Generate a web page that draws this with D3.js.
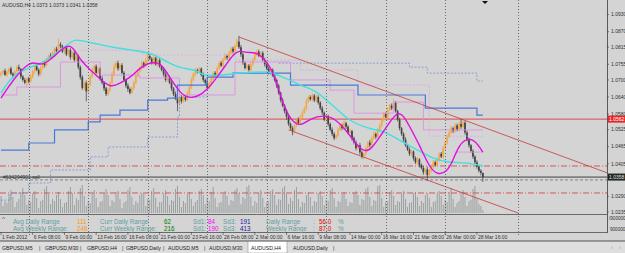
<!DOCTYPE html>
<html>
<head>
<meta charset="utf-8">
<script src="https://cdn.jsdelivr.net/npm/d3@7/dist/d3.min.js"></script>
<style>
  body { margin: 0; background: #d4d4d4; }
  svg { display: block; font-family: "Liberation Sans", Arial, sans-serif; }
</style>
</head>
<body>
<div id="chart"></div>
<script>
// AUDUSD H4, 1 Feb 16:00 .. 29 Mar 04:00 2012, prices in pips (x 1/10000)
var firstOpen = 10718;
var closePips = [
  10725,10732,10718,10728,10740,10722,10715,10730,
  10745,10738,10712,10700,10690,10705,10695,
  10712,10730,10748,10735,10720,10742,10760,10752,
  10770,10785,10778,10795,10810,10802,10825,10818,
  10800,10812,10790,10805,10780,10795,10770,10785,
  10745,10710,10672,10690,10660,
  10685,10712,10735,10748,10725,10740,
  10705,10690,10670,10650,10665,
  10690,10720,10745,10760,10740,10752,
  10725,10700,10680,10668,10655,
  10672,10690,10715,10730,10742,10760,10748,10770,10785,10775,
  10760,10778,10755,10770,10748,
  10735,10720,10700,10710,10690,
  10670,10650,10635,10618,10640,
  10625,10640,10630,10652,
  10675,10700,10720,10735,10728,10740,
  10718,10700,10690,10672,10688,
  10705,10725,10715,10740,10760,10750,10772,
  10785,10778,10795,10810,10800,10820,10835,
  10815,10790,10760,10742,10750,10735,
  10755,10772,10790,10800,10785,10795,
  10770,10755,10740,10725,10735,10715,10700,
  10680,10655,10630,10610,10590,
  10570,10545,10530,10520,10540,
  10560,10548,10570,10585,10600,
  10625,10640,10632,10645,10628,10640,10620,
  10600,10585,10560,10572,10545,10525,10510,10495,
  10505,10525,10540,10530,10548,10535,10515,10520,
  10495,10480,10460,10470,10445,10430,10440,
  10460,10480,10470,10495,10510,10500,10525,10540,
  10560,10580,10570,10595,10610,10600,10620,
  10590,10560,10530,10510,10490,
  10470,10455,10440,10448,10425,10410,10420,10400,
  10390,10375,10385,10365,10380,
  10395,10410,10400,10420,10440,10430,
  10460,10480,10500,10515,10530,10520,10540,
  10525,10545,10535,10550,
  10515,10490,10470,10450,10430,10410,
  10395,10380,10373,10358
];
var hiWick = [
  5,4,8,6,3,7,5,4,6,9, 4,5,7,3,6,8,5,4,9,6, 7,5,6,8,4,10,6,5,7,20,
  8,6,5,9,4,7,6,8,5,4, 6,7,5,8,6,4,9,5,7,6, 5,8,4,6,7,5,9,12,6,8,
  5,7,6,4,8,6,5,7,9,4, 6,8,5,7,10,6,5,8,4,6, 7,5,6,8,4,6,7,5,9,6,
  5,7,4,6,8,5,9,6,7,5, 6,4,8,5,7,6,9,5,6,8, 5,7,6,9,4,8,6,7,5,10,
  20,8,6,5,7,6,9,5,8,6, 7,5,6,8,4,7,5,6,8,5, 6,4,7,5,8,6,5,7,4,6,
  8,5,7,6,9,5,6,8,5,7, 6,5,8,4,7,6,5,8,6,4, 7,5,6,9,5,6,8,4,6,7,
  5,8,6,4,7,5,9,6,8,5, 6,7,5,8,6,9,5,7,12,6, 5,7,4,6,8,5,7,6,4,6,
  8,5,6,7,4,9,6,5,8,6, 7,5,6,8,5,7,6,9,5,8, 6,7,18,8,5,6,7,4,6,5,
  7,5,6,0
];
var loWick = [
  6,5,4,8,7,5,9,6,4,7, 8,6,5,12,7,5,6,8,4,7, 5,6,8,4,7,5,6,9,5,6,
  7,5,8,6,4,9,5,7,6,8, 9,7,6,35,8,6,5,7,4,6, 8,6,9,7,5,6,4,7,5,8,
  6,5,7,8,10,6,5,7,4,6, 5,7,6,4,8,5,6,7,5,9, 6,5,8,7,6,5,9,7,6,28,
  7,8,5,6,4,6,7,5,8,6, 5,6,7,9,6,5,8,6,4,7, 6,5,7,4,8,6,5,7,6,5,
  6,9,7,5,8,6,5,7,4,6, 5,7,6,8,5,6,7,4,6,8, 7,9,6,8,10,7,6,15,8,6,
  5,7,6,4,8,6,5,7,6,8, 7,6,8,5,7,9,6,8,7,5, 6,5,7,6,8,5,6,9,7,8,
  6,8,7,9,6,5,7,6,5,8, 6,5,7,6,4,8,5,6,7,5, 6,8,7,9,6,5,8,7,9,6,
  7,8,6,9,7,20,8,6,7,5, 6,7,5,8,6,7,5,6,7,5, 6,5,7,6,8,7,9,6,8,7,
  8,6,9,17
];
// tick volume, thousands
var volumes = [
  17,7,12,10,19,23, 16,6,11,14,21,25, 18,8,13,11,20,22, 15,5,12,13,24,27,
  19,9,14,12,18,21, 14,6,10,11,22,26, 20,8,15,13,25,28, 17,7,12,10,19,23,
  15,6,11,12,20,24, 18,7,13,11,21,22, 14,5,10,12,23,26, 16,8,12,10,18,20,
  19,7,14,13,22,25, 15,6,11,11,20,23, 17,8,13,12,24,27, 16,6,12,10,19,21,
  14,7,11,13,22,24, 18,9,15,12,21,26, 15,6,10,11,19,22, 17,8,13,12,23,25,
  20,9,16,14,26,28, 16,7,12,10,20,23, 15,6,11,12,22,24, 18,8,14,13,25,27,
  19,9,15,12,23,26, 14,6,11,10,18,21, 16,7,12,11,20,22, 17,8,13,12,23,25,
  15,6,12,11,19,21, 14,7,11,10,20,22, 18,8,14,13,24,26, 16,7,13,12,27,28,
  15,6,11,12,21,23, 17,8,12,11,19,22, 14,6,10,11,20,21, 16,7,12,10,18,20,
  15,6,11,12,19,22, 17,8,13,11,21,25, 14,6,10,12,20,23, 16,7,12,13,24,27,
  15,9,7,3
];

var timeLabels = ["1 Feb 2012","6 Feb 08:00","9 Feb 00:00","13 Feb 16:00","16 Feb 08:00",
  "21 Feb 00:00","23 Feb 16:00","28 Feb 08:00","2 Mar 00:00","6 Mar 16:00","9 Mar 08:00",
  "14 Mar 00:00","16 Mar 16:00","21 Mar 08:00","26 Mar 00:00","28 Mar 16:00"];
var labelEvery = 16;
var weekStarts = [14, 44, 74, 104, 134, 164, 194, 224, 260.5];
var priceTicks = [1.0930, 1.0870, 1.0815, 1.0755, 1.0700, 1.0640, 1.0580, 1.0525, 1.0465, 1.0405, 1.0290, 1.0235];

// indicators: [bar index, price in pips]
var magentaMA = [[0,10636],[6,10700],[14,10763],[18,10759],[21,10752],[26,10777],[31,10812],[35,10823],
  [37,10805],[41,10763],[44,10742],[49,10710],[55,10671],[60,10689],[65,10707],[70,10742],[74,10759],
  [79,10763],[82,10745],[85,10710],[90,10657],[94,10636],[99,10640],[104,10664],[109,10710],[114,10759],
  [117,10788],[120,10805],[124,10795],[128,10798],[132,10781],[136,10745],[139,10689],[142,10619],
  [146,10559],[151,10534],[156,10566],[163,10576],[168,10566],[174,10524],[180,10464],[184,10446],
  [187,10460],[191,10499],[196,10552],[200,10587],[203,10576],[207,10524],[211,10471],[216,10393],
  [220,10365],[225,10376],[228,10418],[231,10471],[235,10495],[239,10488],[243,10446]];
var cyanMA = [[0,10654],[6,10710],[14,10742],[21,10763],[30,10805],[38,10840],[46,10830],[56,10816],
  [66,10805],[77,10788],[84,10763],[90,10745],[97,10735],[104,10717],[110,10717],[120,10724],[134,10728],
  [142,10710],[151,10682],[159,10657],[167,10612],[176,10559],[185,10531],[193,10517],[201,10488],
  [210,10453],[218,10425],[226,10411],[235,10407],[243,10397]];
var blueSteps = [[0,10453],[14,10478],[27,10524],[44,10552],[50,10576],[60,10594],[74,10629],[84,10636],
  [89,10682],[104,10710],[117,10724],[146,10682],[180,10647],[214,10601],[240,10576],[243,10576]];
var blueDotUpper = [[140,10759],[206,10745],[215,10724],[240,10696],[243,10696]];
var blueDotLower = [[0,10277],[5,10302],[14,10337],[25,10383],[45,10429],[54,10464],[74,10499],[89,10569],[90,10640],[104,10640]];
var pinkSolid = [[0,10647],[8,10675],[30,10763],[50,10717],[70,10707],[90,10647],[118,10763],[146,10700],
  [166,10664],[178,10583],[198,10622],[213,10524],[243,10524]];
var pinkSolid2 = [[229,10446],[243,10446]];
var pinkDot = [[40,10805],[72,10788],[118,10770],[151,10735],[180,10682],[216,10502],[243,10502]];

var redLevel = 10562, bidLevel = 10358, sellLevel = 10348;
var dashLevels = [10397, 10302];
var channelUpper = [[120,10851],[306,10372]];
var channelLower = [[145,10524],[261,10231]];

var statsRow1 = [["Avg Daily Range", "#5f9ea0"], ["111", "#ff9900"], ["Curr Daily Range", "#5f9ea0"], ["62", "#008000"],
  ["Sd1:", "#5f9ea0"], ["84", "#ff00ff"], ["Sd3:", "#5f9ea0"], ["191", "#1a1aa0"], ["Daily Range", "#5f9ea0"],
  [":", "#5f9ea0"], ["56.0", "#e00000"], ["%", "#5f9ea0"]];
var statsRow2 = [["Avg Weekly Range:", "#5f9ea0"], ["246", "#ff9900"], ["Curr Weekly Range:", "#5f9ea0"], ["216", "#008000"],
  ["Sd1:", "#5f9ea0"], ["190", "#ff00ff"], ["Sd3:", "#5f9ea0"], ["413", "#1a1aa0"], ["Weekly Range", "#5f9ea0"],
  [":", "#5f9ea0"], ["87.0", "#e00000"], ["%", "#5f9ea0"]];
var statsX = [13, 77, 100, 164, 193, 208, 223, 240, 266, 313, 319, 338];
var tabs = ["GBPUSD,M5", "GBPUSD,M30", "GBPUSD,H4", "GBPUSD,Daily", "AUDUSD,M5", "AUDUSD,M30", "AUDUSD,H4", "AUDUSD,Daily"];
var tabStarts = [2, 45, 87, 126, 168, 209, 251, 293];
var tabSeps = [39, 80, 122, 163, 204, 333];
var activeTab = "AUDUSD,H4";
var header = "AUDUSD,H4  1.0373 1.0373 1.0341 1.0358";

var W = 625, H = 253, axisX = 607, mainBottom = 214, subBottom = 232;

var svg = d3.select("#chart").append("svg").attr("width", W).attr("height", H);
svg.append("rect").attr("width", W).attr("height", H).attr("fill", "#d4d4d4");

var x = d3.scaleLinear().domain([0, 243]).range([1, 1 + 243 * 1.983]);
var y = d3.scaleLinear().domain([1.0235, 1.0930]).range([212, 14.6]);
var yp = function (p) { return y(p / 10000); };
var vy = d3.scaleLinear().domain([0, 30]).range([213, 183]);

svg.append("clipPath").attr("id", "mainclip").append("rect")
  .attr("x", 0).attr("y", 0).attr("width", axisX).attr("height", mainBottom);
var main = svg.append("g").attr("clip-path", "url(#mainclip)");

// week grid
svg.selectAll(".grid").data(weekStarts).enter().append("line")
  .attr("x1", function (d) { return Math.round(x(d)) + 0.5; })
  .attr("x2", function (d) { return Math.round(x(d)) + 0.5; })
  .attr("y1", 0).attr("y2", subBottom + 3)
  .attr("stroke", "#505050").attr("stroke-width", 0.8).attr("stroke-dasharray", "1,2");

// volumes
main.selectAll(".vol").data(volumes).enter().append("line")
  .attr("x1", function (d, i) { return x(i); }).attr("x2", function (d, i) { return x(i); })
  .attr("y1", vy(0)).attr("y2", function (d) { return vy(d); })
  .attr("stroke", "#949a9a").attr("stroke-width", 0.9);

// horizontal levels
main.append("line").attr("x1", 0).attr("x2", axisX).attr("y1", yp(redLevel)).attr("y2", yp(redLevel))
  .attr("stroke", "#e04848").attr("stroke-width", 1);
main.selectAll(".dl").data(dashLevels).enter().append("line")
  .attr("x1", 0).attr("x2", axisX).attr("y1", function (d) { return yp(d); }).attr("y2", function (d) { return yp(d); })
  .attr("stroke", "#d84848").attr("stroke-width", 0.9).attr("stroke-dasharray", "6,2,1,2");
main.append("line").attr("x1", 0).attr("x2", axisX).attr("y1", yp(sellLevel)).attr("y2", yp(sellLevel))
  .attr("stroke", "#707070").attr("stroke-width", 0.8).attr("stroke-dasharray", "3,2");
main.append("line").attr("x1", 0).attr("x2", axisX).attr("y1", yp(bidLevel)).attr("y2", yp(bidLevel))
  .attr("stroke", "#303030").attr("stroke-width", 0.9);
main.append("text").attr("x", 3).attr("y", yp(bidLevel) + 1.5).attr("font-size", 5).attr("fill", "#303030")
  .text("#634294901 sell");

// candles
var bars = closePips.map(function (c, i) {
  var o = i === 0 ? firstOpen : closePips[i - 1];
  return { i: i, o: o, c: c, h: Math.max(o, c) + hiWick[i], l: Math.min(o, c) - loWick[i] };
});
var cg = main.selectAll(".bar").data(bars).enter().append("g");
cg.append("line")
  .attr("x1", function (d) { return x(d.i); }).attr("x2", function (d) { return x(d.i); })
  .attr("y1", function (d) { return yp(d.h); }).attr("y2", function (d) { return yp(d.l); })
  .attr("stroke", function (d) { return d.c >= d.o ? "#e89a38" : "#383838"; }).attr("stroke-width", 0.7);
cg.append("rect")
  .attr("x", function (d) { return x(d.i) - 0.85; }).attr("width", 1.7)
  .attr("y", function (d) { return yp(Math.max(d.o, d.c)); })
  .attr("height", function (d) { return Math.max(0.8, Math.abs(yp(d.o) - yp(d.c))); })
  .attr("fill", function (d) { return d.c >= d.o ? "#f7a640" : "#424242"; });

// step lines
var stepLine = d3.line().curve(d3.curveStepAfter)
  .x(function (d) { return x(d[0]); }).y(function (d) { return yp(d[1]); });
function addStep(data, color, width, dash) {
  main.append("path").datum(data).attr("d", stepLine).attr("fill", "none")
    .attr("stroke", color).attr("stroke-width", width).attr("stroke-dasharray", dash || null);
}
addStep(blueDotLower, "#6a8ad8", 0.7, "2,1.5");
addStep(blueDotUpper, "#6a8ad8", 0.7, "2,1.5");
addStep(pinkDot, "#e0a0e0", 0.7, "2,1.5");
addStep(pinkSolid, "#e090e0", 0.9);
addStep(pinkSolid2, "#e090e0", 0.9);
addStep(blueSteps, "#4a78d8", 1.2);

// moving averages
var smooth = d3.line().curve(d3.curveMonotoneX)
  .x(function (d) { return x(d[0]); }).y(function (d) { return yp(d[1]); });
main.append("path").datum(cyanMA).attr("d", smooth).attr("fill", "none")
  .attr("stroke", "#40e0e0").attr("stroke-width", 1.4);
main.append("path").datum(magentaMA).attr("d", d3.line().curve(d3.curveBasis)
  .x(function (d) { return x(d[0]); }).y(function (d) { return yp(d[1]); }))
  .attr("fill", "none").attr("stroke", "#e010e0").attr("stroke-width", 1.4);

// channel
[channelUpper, channelLower].forEach(function (ch) {
  main.append("line")
    .attr("x1", x(ch[0][0])).attr("y1", yp(ch[0][1]))
    .attr("x2", x(ch[1][0])).attr("y2", yp(ch[1][1]))
    .attr("stroke", "#c83838").attr("stroke-width", 0.8);
});

// window frames
svg.append("line").attr("x1", 0).attr("x2", axisX).attr("y1", mainBottom + 0.5).attr("y2", mainBottom + 0.5)
  .attr("stroke", "#6a6a6a").attr("stroke-width", 1);
svg.append("line").attr("x1", 0).attr("x2", axisX).attr("y1", subBottom + 0.5).attr("y2", subBottom + 0.5)
  .attr("stroke", "#6a6a6a").attr("stroke-width", 1);
svg.append("line").attr("x1", axisX + 0.5).attr("x2", axisX + 0.5).attr("y1", 0).attr("y2", subBottom + 1)
  .attr("stroke", "#5a5a5a").attr("stroke-width", 1);

// price axis
svg.selectAll(".pt").data(priceTicks).enter().append("text")
  .attr("x", axisX + 4).attr("y", function (d) { return y(d) + 1.8; })
  .attr("font-size", 5).attr("fill", "#303030").text(function (d) { return d.toFixed(4); });
svg.selectAll(".ptk").data(priceTicks).enter().append("line")
  .attr("x1", axisX).attr("x2", axisX + 2).attr("y1", function (d) { return y(d); }).attr("y2", function (d) { return y(d); })
  .attr("stroke", "#404040").attr("stroke-width", 0.6);
svg.append("rect").attr("x", axisX + 1).attr("y", yp(redLevel) - 3.5).attr("width", 18).attr("height", 7).attr("fill", "#e82828");
svg.append("text").attr("x", axisX + 2).attr("y", yp(redLevel) + 1.8).attr("font-size", 5).attr("fill", "#fff")
  .text((redLevel / 10000).toFixed(4));
svg.append("rect").attr("x", axisX + 1).attr("y", yp(bidLevel) - 3.5).attr("width", 18).attr("height", 7).attr("fill", "#202820");
svg.append("text").attr("x", axisX + 2).attr("y", yp(bidLevel) + 1.8).attr("font-size", 5).attr("fill", "#e0e0e0")
  .text((bidLevel / 10000).toFixed(4));
svg.append("text").attr("x", axisX + 2).attr("y", mainBottom + 5.5).attr("font-size", 4.6).attr("fill", "#303030").text("/900000");
svg.append("text").attr("x", axisX + 3).attr("y", subBottom - 1).attr("font-size", 4.6).attr("fill", "#303030").text("900000");

// time axis
svg.selectAll(".tl").data(timeLabels).enter().append("text")
  .attr("x", function (d, i) { return x(i * labelEvery) + 1; }).attr("y", 238.5)
  .attr("font-size", 5).attr("fill", "#303030").text(function (d) { return d; });
svg.selectAll(".tt").data(timeLabels).enter().append("line")
  .attr("x1", function (d, i) { return x(i * labelEvery); }).attr("x2", function (d, i) { return x(i * labelEvery); })
  .attr("y1", subBottom).attr("y2", subBottom + 3).attr("stroke", "#404040").attr("stroke-width", 0.6);

// stats sub-window
[statsRow1, statsRow2].forEach(function (row, r) {
  svg.selectAll(".st" + r).data(row).enter().append("text")
    .attr("x", function (d, i) { return statsX[i]; }).attr("y", 223.5 + r * 7)
    .attr("font-size", 6.3).attr("fill", function (d) { return d[1]; }).text(function (d) { return d[0]; });
});
svg.append("path").attr("d", "M2,219 L3.5,217 L5,219").attr("fill", "none").attr("stroke", "#606060").attr("stroke-width", 0.6);

// header and shift marker
svg.append("text").attr("x", 2).attr("y", 6.5).attr("font-size", 5).attr("fill", "#303030").text(header);
svg.append("path").attr("d", "M482,1 L488,1 L485,4 Z").attr("fill", "#101010");

// tab bar
svg.append("rect").attr("x", 0).attr("y", 241).attr("width", W).attr("height", 12).attr("fill", "#dedede");
svg.append("line").attr("x1", 0).attr("x2", W).attr("y1", 241).attr("y2", 241).attr("stroke", "#505050").attr("stroke-width", 1);
svg.append("rect").attr("x", 248).attr("y", 241.5).attr("width", 39).attr("height", 11.5)
  .attr("fill", "#ffffff").attr("stroke", "#808080").attr("stroke-width", 0.5);
svg.selectAll(".tab").data(tabs).enter().append("text")
  .attr("x", function (d, i) { return tabStarts[i]; }).attr("y", 249.5)
  .attr("font-size", 5.2).attr("fill", "#202020").text(function (d) { return d; });
svg.selectAll(".sep").data(tabSeps).enter().append("text")
  .attr("x", function (d) { return d; }).attr("y", 249.5)
  .attr("font-size", 5.5).attr("fill", "#404040").text("|");
svg.append("text").attr("x", 611).attr("y", 249).attr("font-size", 5).attr("fill", "#909090").text("‹");
svg.append("text").attr("x", 619).attr("y", 249).attr("font-size", 5).attr("fill", "#909090").text("›");
</script>
</body>
</html>
